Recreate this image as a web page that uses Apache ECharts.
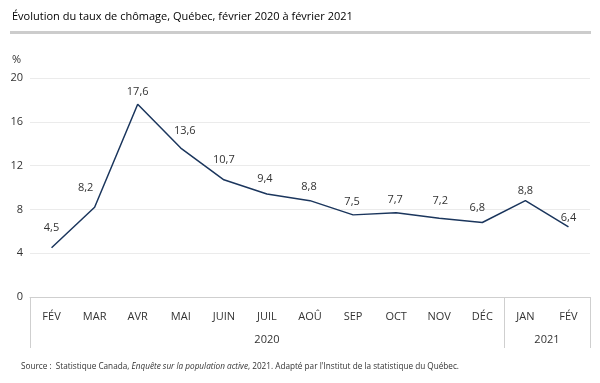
<!DOCTYPE html>
<html><head><meta charset="utf-8">
<script src="https://cdn.jsdelivr.net/npm/echarts@6/dist/echarts.min.js"></script>
<style>html,body{margin:0;padding:0;background:#fff}#c{width:600px;height:383px}</style>
</head><body><div id="c"></div>
<script>
const months = ['FÉV','MAR','AVR','MAI','JUIN','JUIL','AOÛ','SEP','OCT','NOV','DÉC','JAN','FÉV'];
const rates = [4.5, 8.2, 17.6, 13.6, 10.7, 9.4, 8.8, 7.5, 7.7, 7.2, 6.8, 8.8, 6.4];
const years = [{label:'2020', center:5}, {label:'2021', center:11.5}];
const yearStartIdx = [0, 11];
const yTicks = [0, 4, 8, 12, 16, 20];
const titleText = 'Évolution du taux de chômage, Québec, février 2020 à février 2021';

const FONT = '"Open Sans", "Noto Sans", sans-serif';
// label placement tweaks (style only): [dx, dy]
const labelOffsets = [[0,-9.5],[-9,-8.5],[0,-1.5],[4,-6.5],[0,-9.5],[-2,-4.5],[-1,-3.5],[-1,-2.5],[-1,-2.5],[1,-6.5],[-5,-4.5],[0,0.5],[0,1.5]];
const fmt = v => String(v).replace('.', ',');

const chart = echarts.init(document.getElementById('c'), null, {renderer: 'canvas'});
chart.setOption({
  animation: false,
  textStyle: {fontFamily: FONT},
  title: [
    {text: titleText, left: 7, top: 6, textStyle: {fontFamily: FONT, fontSize: 11, fontWeight: 500, color: '#000'}},
    {text: '%', left: 7, top: 49, textStyle: {fontFamily: FONT, fontSize: 11, fontWeight: 'normal', color: '#333'}},
    {text: '{n|Source :  Statistique Canada, }{i|Enquête sur la population active}{n|, 2021. Adapté par l\'Institut de la statistique du Québec.}',
     left: 16, top: 358,
     textStyle: {fontWeight: 'normal', rich: {n: {fontFamily: FONT, fontSize: 8.2, fontWeight: 'normal', color: '#333'}, i: {fontFamily: FONT, fontSize: 8.2, fontWeight: 'normal', fontStyle: 'italic', color: '#333'}}}}
  ],
  graphic: [{type: 'rect', shape: {x: 10, y: 31, width: 581, height: 3}, style: {fill: '#cccccc'}}],
  grid: {left: 30, right: 10, top: 78, bottom: 86, containLabel: false},
  xAxis: [
    {type: 'category', data: months, boundaryGap: true,
     axisLine: {lineStyle: {color: '#cfcfcf', width: 1}},
     axisTick: {show: true, length: 51, interval: (i) => yearStartIdx.includes(i), lineStyle: {color: '#cfcfcf'}},
     axisLabel: {interval: 0, margin: 14, fontSize: 11, color: '#333', fontFamily: FONT}},
    {type: 'value', position: 'bottom', min: -0.5, max: 12.5, interval: 0.5,
     axisLine: {show: false}, axisTick: {show: false}, splitLine: {show: false},
     axisLabel: {margin: 37, fontSize: 11, color: '#333', fontFamily: FONT, showMinLabel: true, showMaxLabel: true,
       formatter: v => { const y = years.find(o => Math.abs(o.center - v) < 1e-6); return y ? y.label : ''; }}}
  ],
  yAxis: {type: 'value', min: 0, max: 20, interval: 4,
    axisLine: {show: false}, axisTick: {show: false},
    splitLine: {lineStyle: {color: '#ebebeb', width: 1}},
    axisLabel: {margin: 7, fontSize: 11, color: '#333', fontFamily: FONT, formatter: v => yTicks.includes(v) ? String(v) : ''}},
  series: [{
    type: 'line', xAxisIndex: 0,
    data: rates.map((v, i) => ({value: v, label: {offset: labelOffsets[i]}})),
    showSymbol: true, symbol: 'circle', symbolSize: 0.1,
    itemStyle: {color: '#1b365d'},
    lineStyle: {color: '#1b365d', width: 1.5},
    label: {show: true, position: 'top', distance: 5, fontSize: 11, color: '#333', fontFamily: FONT, formatter: p => fmt(p.value)}
  }]
});
</script></body></html>
